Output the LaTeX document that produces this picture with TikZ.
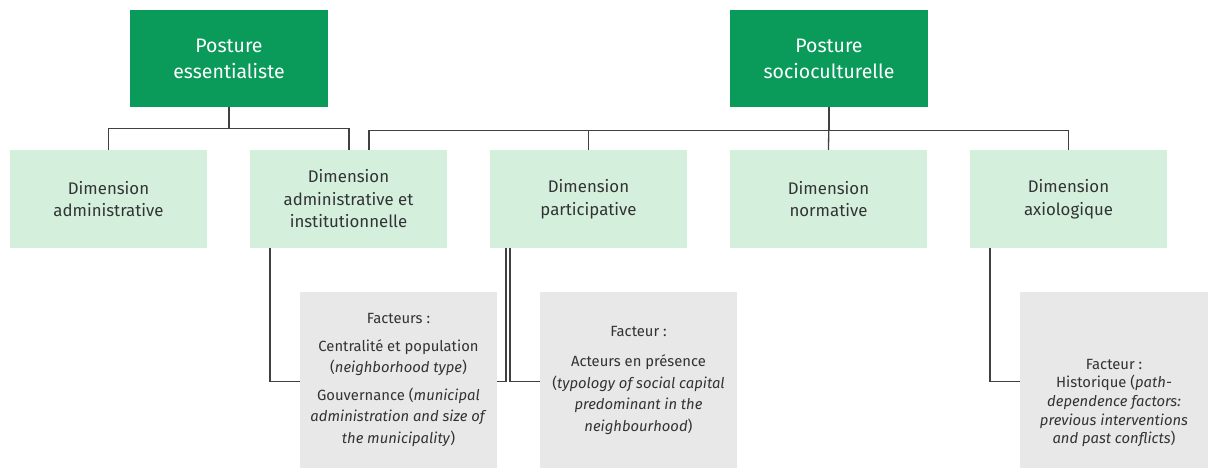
\documentclass[tikz,border=0pt]{standalone}
\usepackage{fontspec}
\setmainfont{Fira Sans}
\usetikzlibrary{calc}
\definecolor{dkgreen}{HTML}{0A9A5A}
\definecolor{ltgreen}{HTML}{D4F0DD}
\definecolor{boxgray}{HTML}{E8E8E8}
\definecolor{txt}{HTML}{333333}
\definecolor{linec}{HTML}{404040}
\tikzset{
  posture/.style={fill=dkgreen, text=white, minimum width=198pt, minimum height=97pt, align=center, inner sep=0pt, font=\fontsize{19.5}{26}\selectfont},
  dim/.style={fill=ltgreen, text=txt, minimum width=197pt, minimum height=98pt, align=center, inner sep=0pt, font=\fontsize{16.8}{22.5}\selectfont},
  fact/.style={fill=boxgray, text=txt, minimum width=197pt, minimum height=176pt, align=center, inner sep=0pt, font=\fontsize{14.8}{21.5}\selectfont},
  conn/.style={draw=linec, line width=1.3pt}
}
\begin{document}
\begin{tikzpicture}[x=1pt,y=-1pt]
\useasboundingbox (0,0) rectangle (1208,468);
% top postures
\node[posture] (pe) at (229,58.5) {Posture\\essentialiste};
\node[posture] (ps) at (829,58.5) {Posture\\socioculturelle};
% dimensions
\node[dim] (da)  at (108.5,199) {Dimension\\administrative};
\node[dim] (dai) at (348.5,199) {Dimension\\administrative et\\institutionnelle};
\node[dim] (dp)  at (588.5,199) {Dimension\\participative};
\node[dim] (dn)  at (828.5,199) {Dimension\\normative};
\node[dim] (dx)  at (1068.5,199) {Dimension\\axiologique};
% factor boxes
\node[fact] (fa) at (398.5,380) {Facteurs :\\[6pt]Centralité et population\\(\textit{neighborhood type})\\[6pt]Gouvernance (\textit{municipal}\\\textit{administration and size of}\\\textit{the municipality})};
\node[fact] (fb) at (638.5,380) {Facteur :\\[9pt]Acteurs en présence\\(\textit{typology of social capital}\\\textit{predominant in the}\\\textit{neighbourhood})};
\node[fact, minimum width=188pt, minimum height=222pt, font=\fontsize{14.8}{18.6}\selectfont] (fc) at (1114,403) {Facteur :\\Historique (\textit{path-}\\\textit{dependence factors:}\\\textit{previous interventions}\\\textit{and past conflicts})};
% connectors from postures
\draw[conn] (pe.south) -- ++(0,21) -| (da.north);
\draw[conn] (pe.south) -- ++(0,21) -| ([xshift=0.5pt]dai.north);
\draw[conn] (ps.south) -- ++(0,23) -| ([xshift=20.5pt]dai.north);
\draw[conn] (ps.south) -- ++(0,23) -| (dp.north);
\draw[conn] (ps.south) -- (dn.north);
\draw[conn] (ps.south) -- ++(0,23) -| (dx.north);
% connectors to factors
\draw[conn] ([xshift=-78.5pt]dai.south) |- ($(fa.north west)+(0,90)$);
\draw[conn] ([xshift=-82.5pt]dp.south) |- ($(fa.north east)+(0,90)$);
\draw[conn] ([xshift=-78.5pt]dp.south) |- ($(fb.north west)+(0,90)$);
\draw[conn] ([xshift=-78.5pt]dx.south) |- ($(fc.north west)+(0,90)$);
\end{tikzpicture}
\end{document}
